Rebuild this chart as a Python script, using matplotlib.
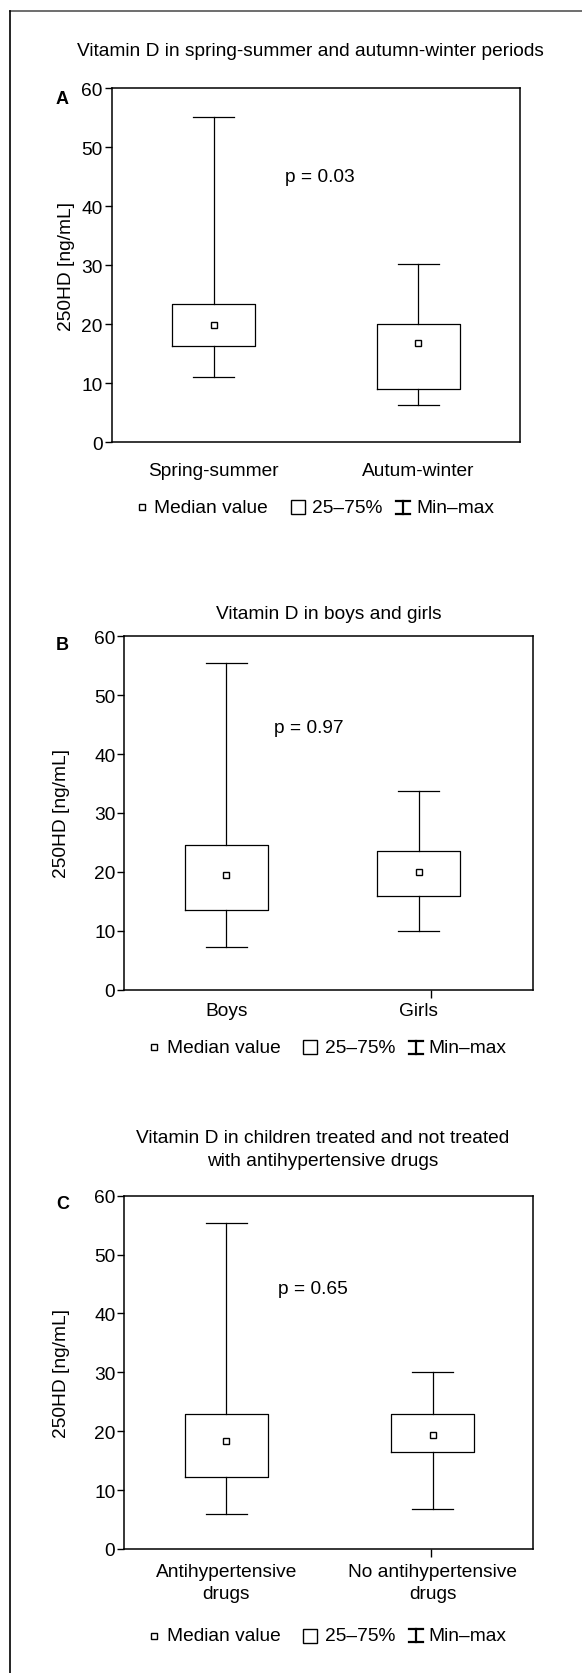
import matplotlib
matplotlib.use("Agg")
import matplotlib.pyplot as plt
from matplotlib.lines import Line2D

plt.rcParams['font.family'] = ['Liberation Sans', 'DejaVu Sans']

W, H = 582, 1674

# panel A: spring-summer vs autumn-winter
groups_a = ['Spring-summer', 'Autum-winter']
min_a = [11.0, 6.3]
q1_a = [16.4, 9.1]
med_a = [19.9, 16.9]
q3_a = [23.5, 20.0]
max_a = [55.2, 30.2]

# panel B: boys vs girls
groups_b = ['Boys', 'Girls']
min_b = [7.2, 9.9]
q1_b = [13.6, 15.9]
med_b = [19.4, 19.9]
q3_b = [24.6, 23.5]
max_b = [55.4, 33.8]

# panel C: antihypertensive drugs
groups_c = ['Antihypertensive\ndrugs', 'No antihypertensive\ndrugs']
min_c = [6.0, 6.8]
q1_c = [12.2, 16.4]
med_c = [18.4, 19.4]
q3_c = [23.0, 23.0]
max_c = [55.4, 30.0]

yticks = [0, 10, 20, 30, 40, 50, 60]
FS = 13.8


def fx(x):
    return x / W


def fy(y):
    return 1 - y / H


fig = plt.figure(figsize=(W / 100, H / 100), dpi=100)

# outer frame (top + left only)
fig.add_artist(Line2D([fx(10), fx(582)], [fy(12), fy(12)], color='#555555', lw=1.2))
fig.add_artist(Line2D([fx(10), fx(10)], [fy(12), fy(1674)], color='black', lw=1.2))


def panel(left, top, bottom, right, groups, mins, q1s, meds, q3s, maxs,
          box_pos, tick_pos, pval, pxy, label_pad):
    ax = fig.add_axes([fx(left), fy(bottom), fx(right) - fx(left), (bottom - top) / H])
    stats = []
    for lo, a, m, b, hi in zip(mins, q1s, meds, q3s, maxs):
        stats.append(dict(whislo=lo, q1=a, med=m, q3=b, whishi=hi, fliers=[]))
    lp = dict(color='black', linewidth=0.9)
    ax.bxp(stats, positions=box_pos, widths=0.406, capwidths=0.2, showfliers=False,
           boxprops=lp, whiskerprops=lp, capprops=lp, medianprops=dict(linewidth=0),
           manage_ticks=False)
    ax.plot(box_pos, meds, 's', ms=5, mfc='white', mec='black', mew=1.0, zorder=5)
    ax.set_xlim(-0.5, 1.5)
    ax.set_ylim(0, 60)
    ax.set_yticks(yticks)
    ax.tick_params(axis='y', labelsize=FS, length=5, width=1.0, pad=1.5)
    ax.set_xticks(box_pos)
    ax.set_xticklabels(groups, fontsize=FS, linespacing=1.4)
    ax.tick_params(axis='x', which='major', length=0, pad=label_pad)
    ax.set_xticks(tick_pos, minor=True)
    ax.tick_params(axis='x', which='minor', length=6, width=1.0)
    for s in ax.spines.values():
        s.set_linewidth(1.1)
    ax.text(pxy[0], pxy[1], pval, fontsize=FS, ha='left', va='center')
    return ax


panel(111.7, 89.3, 443.3, 520.4, groups_a, min_a, q1_a, med_a, q3_a, max_a,
      [0, 1], [0, 1], 'p = 0.03', (0.348, 45.0), 14.5)
panel(124.3, 637.3, 990.7, 532.7, groups_b, min_b, q1_b, med_b, q3_b, max_b,
      [0, 0.942], [0, 1], 'p = 0.97', (0.233, 44.5), 9)
panel(124.3, 1196.7, 1550.0, 532.7, groups_c, min_c, q1_c, med_c, q3_c, max_c,
      [0, 1.01], [0, 1], 'p = 0.65', (0.254, 44.2), 10)

# titles
fig.text(fx(310), fy(51.7), 'Vitamin D in spring-summer and autumn-winter periods',
         fontsize=FS, ha='center', va='center')
fig.text(fx(328.5), fy(615), 'Vitamin D in boys and girls',
         fontsize=FS, ha='center', va='center')
fig.text(fx(323), fy(1150), 'Vitamin D in children treated and not treated\nwith antihypertensive drugs',
         fontsize=FS, ha='center', va='center', linespacing=1.45)

# panel letters
for letter, y in [('A', 99.3), ('B', 646), ('C', 1205)]:
    fig.text(fx(62.3), fy(y), letter, fontsize=13, fontweight='bold', ha='center', va='center')

# y labels
for x, y in [(66.7, 266.3), (62, 814), (62, 1373.3)]:
    fig.text(fx(x), fy(y), '250HD [ng/mL]', fontsize=FS, rotation=90, ha='center', va='center')


def legend(L, y):
    fig.add_artist(Line2D([fx(L + 30)], [fy(y)], marker='s', ms=5, mfc='white',
                          mec='black', mew=1.0, lw=0))
    fig.text(fx(L + 42.5), fy(y), 'Median value', fontsize=FS, ha='left', va='center')
    fig.add_artist(Line2D([fx(L + 186)], [fy(y)], marker='s', ms=10, mfc='white',
                          mec='black', mew=1.0, lw=0))
    fig.text(fx(L + 200.5), fy(y), '25\u201375%', fontsize=FS, ha='left', va='center')
    cx = L + 291.5
    fig.add_artist(Line2D([fx(cx), fx(cx)], [fy(y - 6.5), fy(y + 6.5)], color='black', lw=1.6))
    fig.add_artist(Line2D([fx(cx - 7), fx(cx + 7)], [fy(y - 6.5), fy(y - 6.5)], color='black', lw=1.6))
    fig.add_artist(Line2D([fx(cx - 7), fx(cx + 7)], [fy(y + 6.5), fy(y + 6.5)], color='black', lw=1.6))
    fig.text(fx(L + 304.5), fy(y), 'Min\u2013max', fontsize=FS, ha='left', va='center')


legend(111.7, 508.3)
legend(124.3, 1048.3)
legend(124.3, 1636.7)

fig.savefig('out.png', dpi=100)
